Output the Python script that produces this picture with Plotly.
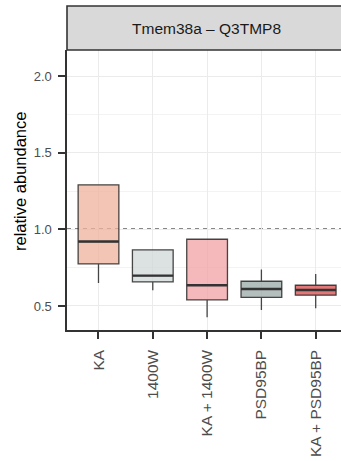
import plotly.graph_objects as go

categories = ["KA", "1400W", "KA + 1400W", "PSD95BP", "KA + PSD95BP"]
q1 = [0.774, 0.657, 0.539, 0.556, 0.570]
median = [0.920, 0.698, 0.635, 0.611, 0.604]
q3 = [1.290, 0.866, 0.935, 0.661, 0.635]
lower = [0.650, 0.602, 0.426, 0.474, 0.485]
upper = [1.290, 0.866, 0.935, 0.737, 0.709]
fills = ["rgba(238,177,155,0.75)", "rgba(208,216,216,0.75)", "rgba(242,162,164,0.75)",
         "rgba(154,169,166,0.75)", "rgba(219,74,74,0.75)"]
title = "Tmem38a \u2013 Q3TMP8"
ylabel = "relative abundance"
yticks = [0.5, 1.0, 1.5, 2.0]

BOXW = 0.75
FONT = "Liberation Sans, Arial, sans-serif"

fig = go.Figure()
for i, cat in enumerate(categories):
    fig.add_trace(go.Box(
        x=[i], q1=[q1[i]], median=[median[i]], q3=[q3[i]],
        lowerfence=[lower[i]], upperfence=[upper[i]],
        width=BOXW, whiskerwidth=0, boxpoints=False,
        fillcolor=fills[i], line=dict(color="rgba(40,40,40,0.85)", width=1.3),
        name=cat, showlegend=False, hoverinfo="skip"))
    fig.add_trace(go.Scatter(
        x=[i - BOXW / 2, i + BOXW / 2], y=[median[i], median[i]],
        mode="lines", line=dict(color="#333333", width=2.4),
        showlegend=False, hoverinfo="skip"))

# reference line at 1
fig.add_shape(type="line", xref="paper", x0=0, x1=1.05, yref="y", y0=1, y1=1,
              line=dict(color="#111111", width=1.5, dash="4px,4px"), layer="between")

# strip
fig.add_shape(type="rect", xref="paper", yref="paper", x0=0, x1=1.2,
              y0=1.0, y1=1.0 + 44 / 280, fillcolor="#D9D9D9",
              line=dict(color="#333333", width=1.6))
fig.add_annotation(xref="paper", yref="paper", x=(206.7 - 67) / 274, y=1.0 + 22 / 280,
                   text=title, showarrow=False, font=dict(family=FONT, size=15.5, color="#1A1A1A"),
                   xanchor="center", yanchor="middle")
fig.add_annotation(xref="paper", yref="paper", x=-47 / 274, y=(330 - 182) / 280,
                   text=ylabel, textangle=-90, showarrow=False,
                   font=dict(family=FONT, size=16.5, color="#000000"),
                   xanchor="center", yanchor="middle")

fig.update_layout(
    width=341, height=461,
    margin=dict(l=67, r=0, t=50, b=131),
    plot_bgcolor="white", paper_bgcolor="white",
    font=dict(family=FONT),
    xaxis=dict(range=[-0.58, 4.466], tickmode="array", tickvals=list(range(len(categories))),
               ticktext=categories, tickangle=-90, showgrid=True, gridcolor="#EBEBEB", gridwidth=1,
               zeroline=False, showline=True, linecolor="#333333", linewidth=1.6,
               ticks="outside", ticklen=7, tickwidth=2, tickcolor="#333333", automargin=False,
               tickfont=dict(family=FONT, size=15.5, color="#4D4D4D"), ticklabelstandoff=5),
    yaxis=dict(range=[0.343, 2.17], tickmode="array", tickvals=yticks,
               ticktext=["%.1f" % v for v in yticks], showgrid=True, gridcolor="#EBEBEB", gridwidth=1,
               minor=dict(tickmode="array", tickvals=[0.75, 1.25, 1.75], showgrid=True,
                          gridcolor="#F3F3F3", gridwidth=1, ticks=""),
               zeroline=False, showline=True, linecolor="#333333", linewidth=1.6, automargin=False,
               ticks="outside", ticklen=7, tickwidth=2, tickcolor="#333333",
               tickfont=dict(family=FONT, size=13, color="#4D4D4D"), ticklabelstandoff=4),
)

fig.write_html("out.html", config={"displayModeBar": False, "staticPlot": True},
               post_script="document.documentElement.style.overflow='hidden';"
                           "document.body.style.margin='0';document.body.style.overflow='hidden';")
